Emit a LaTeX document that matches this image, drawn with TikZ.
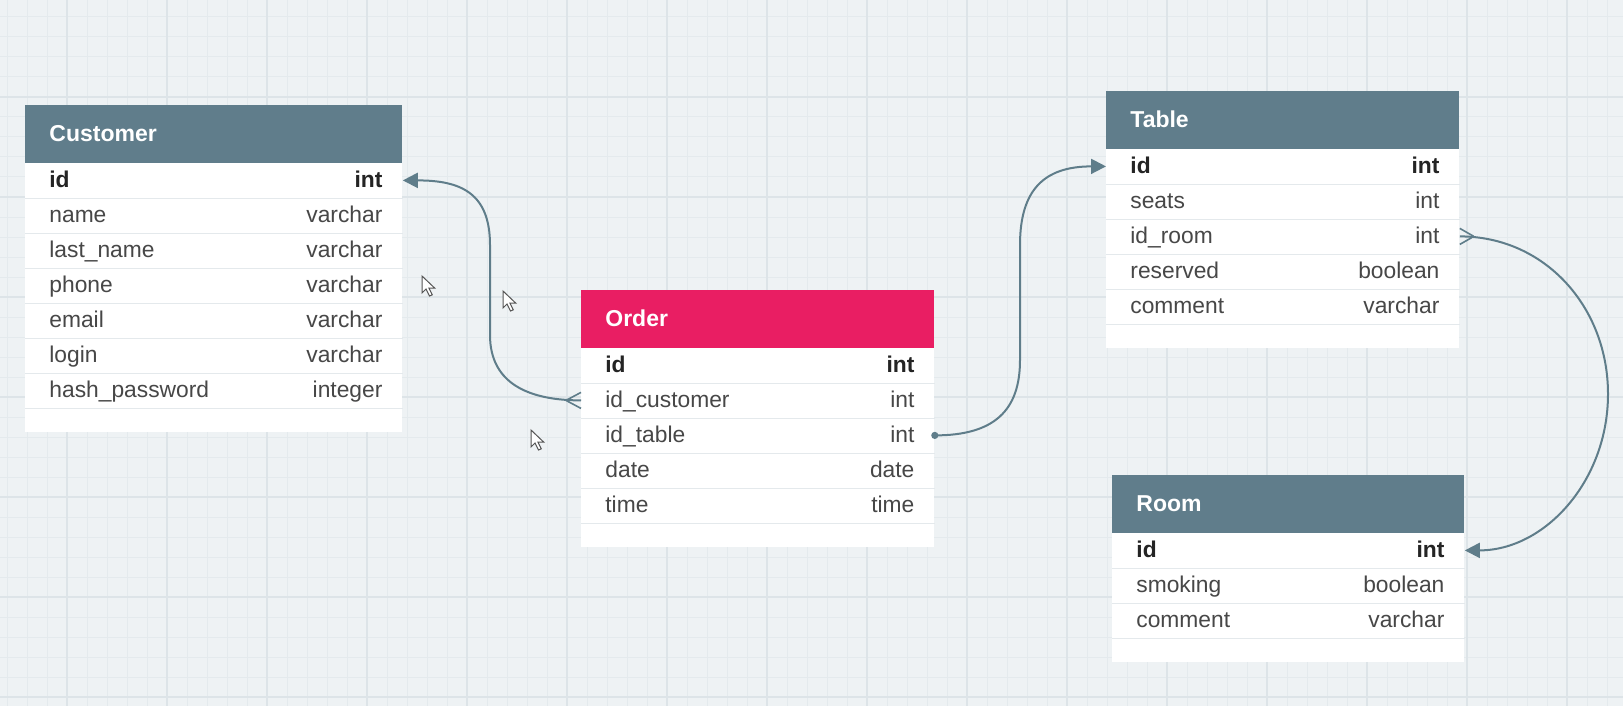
\documentclass[tikz,border=0pt]{standalone}
\usepackage{fontspec}
\setmainfont{Liberation Sans}
\usetikzlibrary{arrows.meta}
\definecolor{bgc}{HTML}{EEF2F4}
\definecolor{gridminor}{HTML}{E4EAED}
\definecolor{gridmajor}{HTML}{DDE4E8}
\definecolor{hdrgray}{HTML}{607D8B}
\definecolor{hdrpink}{HTML}{E91E63}
\definecolor{conncol}{HTML}{5F7D8A}
\definecolor{fieldcol}{HTML}{474747}
\definecolor{idcol}{HTML}{242424}
\definecolor{sepcol}{HTML}{E4E9EC}
\definecolor{cursorcol}{HTML}{555555}
\tikzset{
  hdrbox/.style={anchor=north west, inner sep=0pt, minimum height=28.75pt, draw=none},
  bodybox/.style={anchor=north west, inner sep=0pt, fill=white, draw=none},
  rowbox/.style={anchor=north west, inner sep=0pt, minimum height=17.5pt, draw=none},
  titletext/.style={anchor=mid west, inner sep=0pt, text=white, font=\fontsize{11.5}{13}\selectfont\bfseries},
  fieldtext/.style={anchor=mid west, inner sep=0pt, text=fieldcol, font=\fontsize{11.4}{13}\selectfont},
  typetext/.style={anchor=mid east, inner sep=0pt, text=fieldcol, font=\fontsize{11.4}{13}\selectfont},
  sepline/.style={draw=sepcol, line width=0.6pt},
  conn/.style={draw=conncol, line width=1pt},
  conntip/.style={-{Triangle[length=7.5pt,width=7.5pt]}},
  crowfoot/.style={draw=conncol, line width=0.8pt},
  cursorshape/.style={fill=white, draw=cursorcol, line width=0.5pt, line join=miter}
}
% name, x, y, width, rows count, title, colour, rows
\newcommand\ertable[8]{%
  \node[hdrbox, fill=#7, minimum width={(#4)*0.5pt}] (#1) at (#2,#3) {};
  \node[titletext] (#1-title) at ([xshift=12pt,yshift=-1pt]#1.west) {#6};
  \node[bodybox, minimum width={(#4)*0.5pt}, minimum height={(35*#5+24)*0.5pt}] (#1-body) at (#2,{#3+57.5}) {};
  \foreach \fname/\ftype [count=\i] in {#8} {
    \node[rowbox, minimum width={(#4)*0.5pt}] (#1-\i) at (#2,{#3+57.5+35*(\i-1)}) {};
    \draw[sepline] (#1-\i.south west) -- (#1-\i.south east);
    \node[fieldtext] (#1-\i-f) at ([xshift=12pt,yshift=-1.1pt]#1-\i.west) {\ifnum\i=1 \bfseries\color{idcol}\fi\fname};
    \node[typetext] (#1-\i-t) at ([xshift=-10pt,yshift=-1.1pt]#1-\i.east) {\ifnum\i=1 \bfseries\color{idcol}\fi\ftype};
  }%
}
\newcommand\mousecursor[2]{%
  \draw[cursorshape] (#1,#2) -- ++(0,17) -- ++(4,-4) -- ++(3.5,7) -- ++(2.8,-1.2) -- ++(-3.3,-6.6) -- ++(5.8,0) -- cycle;
}
\begin{document}
\begin{tikzpicture}[x=0.5pt,y=-0.5pt]
\useasboundingbox (0,0) rectangle (1623,706);
\fill[bgc] (0,0) rectangle (1623,706);
% grid
\foreach \gx in {7,27,...,1620} \draw[gridminor, line width=0.5pt] (\gx,0) -- (\gx,706);
\foreach \gy in {17,37,...,700} \draw[gridminor, line width=0.5pt] (0,\gy) -- (1623,\gy);
\foreach \gx in {67,167,...,1620} \draw[gridmajor, line width=0.6pt] (\gx,0) -- (\gx,706);
\foreach \gy in {97,197,...,700} \draw[gridmajor, line width=0.6pt] (0,\gy) -- (1623,\gy);

% tables
\ertable{cust}{25}{105}{377}{7}{Customer}{hdrgray}{id/int, name/varchar, last\_name/varchar, phone/varchar, email/varchar, login/varchar, hash\_password/integer}
\ertable{ord}{581}{290}{353}{5}{Order}{hdrpink}{id/int, id\_customer/int, id\_table/int, date/date, time/time}
\ertable{tab}{1106}{91}{353}{5}{Table}{hdrgray}{id/int, seats/int, id\_room/int, reserved/boolean, comment/varchar}
\ertable{room}{1112}{475}{352}{3}{Room}{hdrgray}{id/int, smoking/boolean, comment/varchar}

% connectors
\draw[conn, conntip] (ord-2.west) .. controls +(-50,0) and +(0,50) .. (490,335) -- (490,245) .. controls +(0,-52) and +(58,0) .. (cust-1.east);
\draw[crowfoot] ([xshift=-7.5pt]ord-2.west) -- ([yshift=4pt]ord-2.west);
\draw[crowfoot] ([xshift=-7.5pt]ord-2.west) -- ([yshift=-4pt]ord-2.west);

\draw[conn, conntip] (ord-3.east) .. controls +(60,0) and +(0,50) .. (1020,360) -- (1020,245) .. controls +(0,-55) and +(-62,0) .. (tab-1.west);
\fill[conncol] (ord-3.east) circle (1.8pt);

\draw[conn, conntip] (tab-3.east) .. controls +(85,0) and +(0,-87) .. (1608,394) .. controls +(0,87) and +(80,0) .. (room-1.east);
\draw[crowfoot] ([xshift=7pt]tab-3.east) -- ([yshift=4pt]tab-3.east);
\draw[crowfoot] ([xshift=7pt]tab-3.east) -- ([yshift=-4pt]tab-3.east);

% mouse cursors
\mousecursor{422}{276}
\mousecursor{503}{291}
\mousecursor{531}{430}
\end{tikzpicture}
\end{document}
